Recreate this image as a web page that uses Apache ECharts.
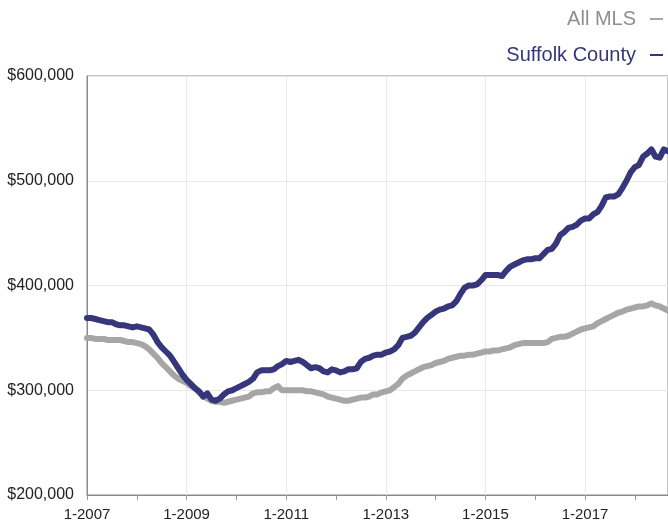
<!DOCTYPE html>
<html>
<head>
<meta charset="utf-8">
<script src="https://cdn.jsdelivr.net/npm/echarts@6/dist/echarts.min.js"></script>
<style>
  html, body { margin: 0; padding: 0; background: #fff; }
  #chart { width: 668px; height: 523px; }
</style>
</head>
<body>
<div id="chart"></div>
<script>
// monthly median price, 1-2007 .. 9-2018 (thousands of dollars)
const startYear = 2007;
const allMls = [
  350, 350, 349, 349, 349, 348, 348, 348, 348, 347, 346, 346,
  345, 344, 342, 339, 335, 331, 326, 322, 318, 314, 311, 309,
  307, 304, 302, 298, 295, 292, 290, 289, 289, 288, 289, 290,
  291, 292, 293, 294, 297, 298, 298, 299, 299, 302, 304, 300,
  300, 300, 300, 300, 300, 299, 299, 298, 297, 296, 294, 293,
  292, 291, 290, 290, 291, 292, 293, 293, 294, 296, 296, 298,
  299, 300, 303, 306, 311, 314, 316, 318, 320, 322, 323, 324,
  326, 327, 328, 330, 331, 332, 333, 333, 334, 334, 335, 336,
  337, 337, 338, 338, 339, 340, 341, 343, 344, 345, 345, 345,
  345, 345, 345, 346, 349, 350, 351, 351, 352, 354, 356, 358,
  359, 360, 361, 364, 366, 368, 370, 372, 374, 375, 377, 378,
  379, 380, 380, 381, 383, 381, 380, 378, 376
];
const suffolk = [
  369, 369, 368, 367, 366, 365, 365, 363, 362, 362, 361, 360,
  361, 360, 359, 358, 353, 346, 341, 337, 333, 327, 321, 315,
  310, 306, 302, 299, 294, 297, 291, 290, 292, 296, 299, 300,
  302, 304, 306, 308, 311, 317, 319, 319, 319, 320, 323, 325,
  328, 327, 328, 329, 327, 324, 321, 322, 321, 318, 317, 320,
  319, 317, 318, 320, 320, 321, 327, 330, 331, 333, 334, 334,
  336, 337, 339, 343, 350, 351, 352, 355, 360, 365, 369, 372,
  375, 377, 378, 380, 381, 385, 392, 398, 400, 400, 401, 405,
  410, 410, 410, 410, 409, 414, 418, 420, 422, 424, 425, 425,
  426, 426, 430, 434, 435, 440, 448, 451, 455, 456, 458, 462,
  464, 464, 468, 470, 476, 484, 485, 485, 487, 493, 500, 508,
  513, 515, 523, 526, 530, 523, 522, 530, 528
];
const seriesNames = ["All MLS", "Suffolk County"];
const seriesColors = ["#a6a6a6", "#36367a"];
const legendTextColors = ["#8e8e8e", "#36367a"];

// month labels like "1-2007"
const months = [];
for (let i = 0; i < suffolk.length; i++) {
  months.push((i % 12 + 1) + "-" + (startYear + Math.floor(i / 12)));
}

const font = "'Liberation Sans', Arial, Helvetica, sans-serif";

let myChart = echarts.init(document.getElementById("chart"));
const optionData = {
  animation: false,
  legend: {
    orient: "vertical",
    right: 0,
    top: 4,
    align: "right",
    itemGap: 16,
    itemWidth: 13,
    itemHeight: 2,
    icon: "rect",
    textStyle: { fontFamily: font, fontSize: 20, padding: [0, 9, 0, 0] },
    data: [
      { name: seriesNames[0], textStyle: { color: legendTextColors[0] } },
      { name: seriesNames[1], textStyle: { color: legendTextColors[1] } }
    ]
  },
  grid: {
    left: 87,
    top: 76,
    bottom: 28,
    right: -2,
    show: true,
    borderColor: "#8a8a8a",
    borderWidth: 1
  },
  xAxis: {
    type: "category",
    boundaryGap: false,
    data: months,
    axisLine: { lineStyle: { color: "#8a8a8a" } },
    axisTick: { interval: 11, length: 5, lineStyle: { color: "#999" } },
    axisLabel: { interval: 23, margin: 12, color: "#222", fontSize: 15, fontFamily: font },
    splitLine: { show: true, interval: 23, lineStyle: { color: "#e8e8e8" } }
  },
  yAxis: {
    type: "value",
    min: 200,
    max: 600,
    interval: 100,
    axisLine: { show: true, lineStyle: { color: "#8a8a8a" } },
    axisTick: { show: false },
    axisLabel: {
      margin: 13,
      color: "#222",
      fontSize: 16,
      fontFamily: font,
      formatter: function (v) { return "$" + v + ",000"; }
    },
    splitLine: { lineStyle: { color: "#e8e8e8" } }
  },
  series: [
    {
      name: seriesNames[0],
      type: "line",
      data: allMls,
      showSymbol: false,
      color: seriesColors[0],
      lineStyle: { width: 6, cap: "round", join: "round" }
    },
    {
      name: seriesNames[1],
      type: "line",
      data: suffolk,
      showSymbol: false,
      color: seriesColors[1],
      lineStyle: { width: 6, cap: "round", join: "round" }
    }
  ]
};
myChart.setOption(optionData);
</script>
</body>
</html>
